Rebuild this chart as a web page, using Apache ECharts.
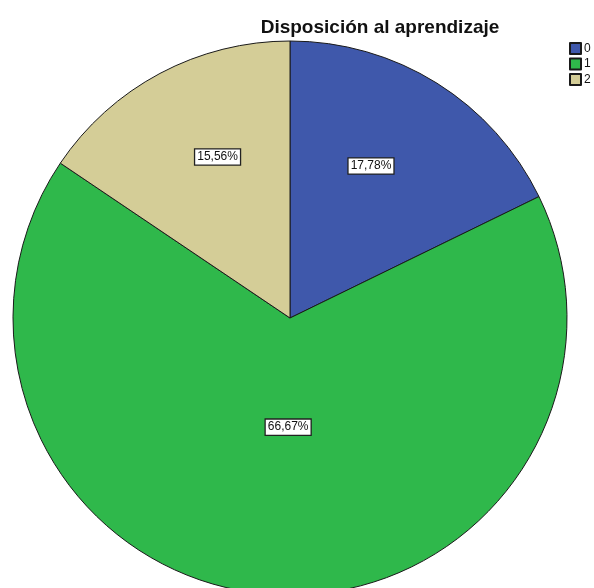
<!DOCTYPE html>
<html>
<head>
<meta charset="utf-8">
<script src="https://cdn.jsdelivr.net/npm/echarts@6/dist/echarts.min.js"></script>
<style>
  html, body { margin: 0; padding: 0; background: #ffffff; }
  #chart { width: 594px; height: 588px; }
</style>
</head>
<body>
<div id="chart"></div>
<script>
// Categories and percentages of the pie
const categories = ['0', '1', '2'];
const percentages = [17.78, 66.67, 15.56];
const sliceColors = ['#3f58ab', '#2fb84b', '#d4cd97'];
// Label nudges relative to the default inside position
const labelShift = [[6, -32], [8, -32], [-6, -36]];

const chart = echarts.init(document.getElementById('chart'), null, { renderer: 'canvas' });

chart.setOption({
  backgroundColor: '#ffffff',
  animation: false,
  title: {
    text: 'Disposición al aprendizaje',
    left: 375,
    textAlign: 'center',
    top: 13,
    textStyle: {
      fontFamily: 'Liberation Sans, Arial, sans-serif',
      fontSize: 19,
      fontWeight: 'bold',
      color: '#111111'
    }
  },
  legend: {
    orient: 'vertical',
    left: 569,
    top: 42,
    padding: 0,
    itemWidth: 11,
    itemHeight: 11,
    itemGap: 2.5,
    icon: 'rect',
    data: categories,
    textStyle: {
      fontFamily: 'Liberation Sans, Arial, sans-serif',
      fontSize: 12,
      color: '#111111',
      padding: [0, 0, 0, -2]
    }
  },
  series: [{
    type: 'pie',
    center: [290, 318],
    radius: 277,
    startAngle: 90,
    clockwise: true,
    avoidLabelOverlap: false,
    emphasis: { disabled: true },
    itemStyle: { borderColor: '#1a1a1a', borderWidth: 1 },
    label: {
      show: true,
      position: 'inside',
      formatter: p => p.value.toFixed(2).replace('.', ',') + '%',
      fontFamily: 'Liberation Sans, Arial, sans-serif',
      fontSize: 12,
      color: '#111111',
      backgroundColor: '#ffffff',
      borderColor: '#222222',
      borderWidth: 1.3,
      padding: [2, 2, 1, 2]
    },
    labelLine: { show: false },
    labelLayout: p => ({ dx: labelShift[p.dataIndex][0], dy: labelShift[p.dataIndex][1] }),
    data: categories.map((c, i) => ({
      name: c,
      value: percentages[i],
      itemStyle: { color: sliceColors[i] }
    }))
  }]
});
</script>
</body>
</html>
